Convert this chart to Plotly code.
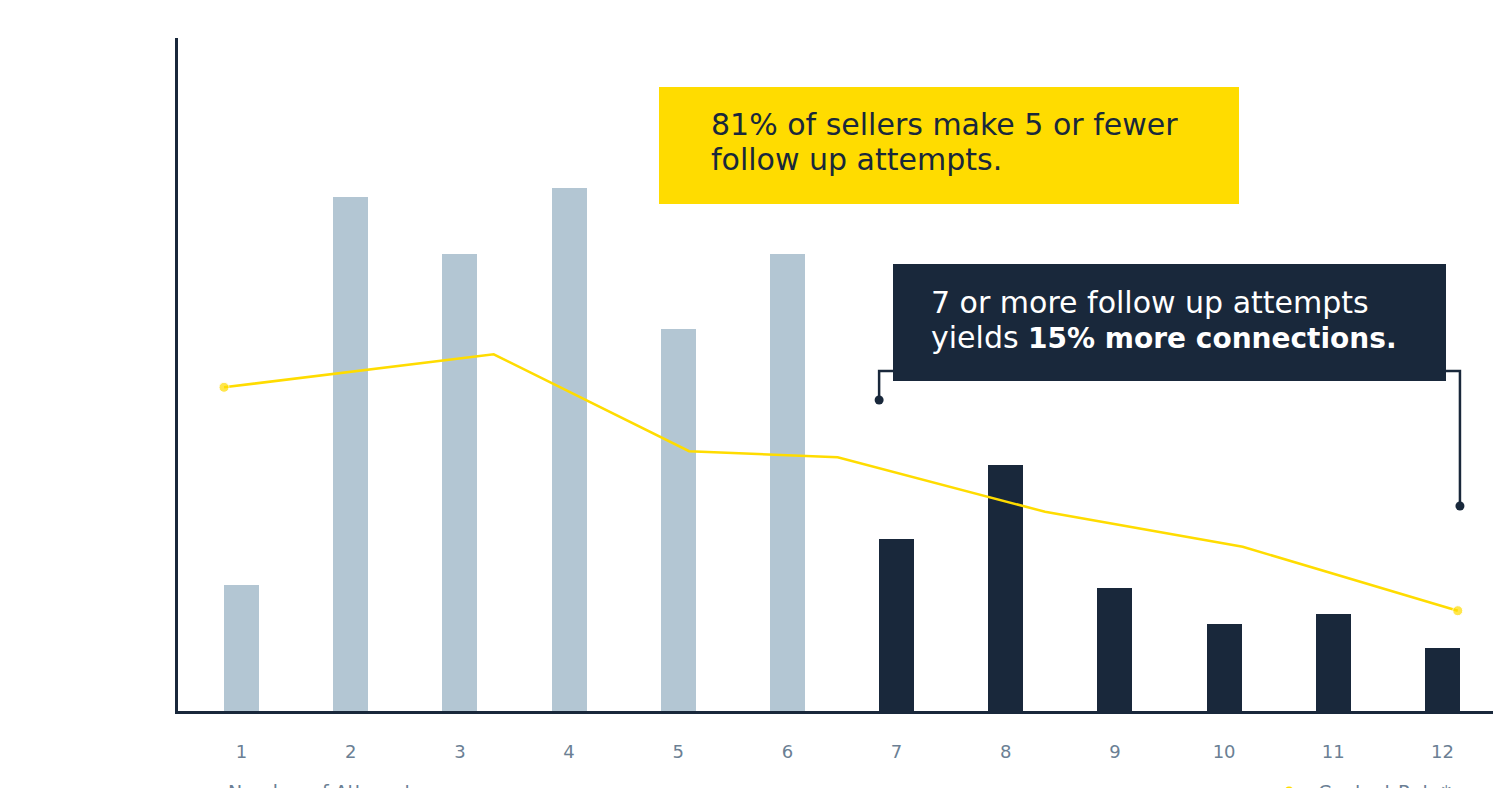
import plotly.graph_objects as go

# ---- data ----
attempts = [1, 2, 3, 4, 5, 6, 7, 8, 9, 10, 11, 12]
tick_labels = [str(a) for a in attempts]
seller_share = [18.7, 76.4, 67.9, 77.7, 56.8, 67.9, 25.6, 36.6, 18.3, 12.9, 14.4, 9.4]
contact_x = [0.84, 3.31, 5.10, 6.46, 8.36, 10.17, 12.14]
contact_rate = [48.1, 53.0, 38.6, 37.7, 29.6, 24.4, 14.9]

LIGHT = "#b3c6d3"
DARK = "#19283b"
YELLOW = "#ffdc00"
TICK = "#6b7f94"
FONT = "DejaVu Sans, sans-serif"

bar_colors = [LIGHT if a <= 6 else DARK for a in attempts]
bar_w = 0.32

fig = go.Figure()
fig.add_trace(go.Bar(
    x=attempts, y=seller_share, width=bar_w,
    marker=dict(color=bar_colors, line=dict(width=0)),
    showlegend=False, hoverinfo="x+y", name="Sellers",
))
fig.add_trace(go.Scatter(
    x=contact_x, y=contact_rate, mode="lines+markers",
    line=dict(color=YELLOW, width=2.5),
    marker=dict(color=YELLOW, size=[10, 0, 0, 0, 0, 0, 10]),
    showlegend=False, name="Contact Rate*",
))

# page offset (body margin) and geometry
OFF = 8
W, H = 1501 - OFF, 788 - OFF
L, T = 178 - OFF, 38 - OFF
R = 0
B = H - (711 - OFF)
pw, ph = W - L - R, H - T - B

def px(x):
    return (x - OFF - L) / pw

def py(y):
    return (H - B - (y - OFF)) / ph

shapes = []
# yellow callout box
shapes.append(dict(type="rect", xref="paper", yref="paper",
                   x0=px(659), x1=px(1239), y0=py(204), y1=py(87),
                   fillcolor=YELLOW, line=dict(width=0), layer="above"))
# dark callout box
shapes.append(dict(type="rect", xref="paper", yref="paper",
                   x0=px(893), x1=px(1446), y0=py(381), y1=py(264),
                   fillcolor=DARK, line=dict(width=0), layer="above"))
# bracket spanning bars 7-12
bx0 = attempts[6] - bar_w / 2
bx1 = attempts[11] + bar_w / 2
shapes.append(dict(type="path", xref="x", yref="paper",
                   path=f"M {bx0} {py(400)} L {bx0} {py(371)} L 7.12 {py(371)}",
                   line=dict(color=DARK, width=2.5), layer="below"))
shapes.append(dict(type="path", xref="x", yref="paper",
                   path=f"M 11.9 {py(371)} L {bx1} {py(371)} L {bx1} {py(506)}",
                   line=dict(color=DARK, width=2.5), layer="below"))
# end dots
for cx, cy in [(bx0, py(400)), (bx1, py(506))]:
    r = 4.5
    shapes.append(dict(type="circle", xref="x", yref="paper",
                       xsizemode="pixel", ysizemode="pixel",
                       xanchor=cx, yanchor=cy, x0=-r, x1=r, y0=-r, y1=r,
                       fillcolor=DARK, line=dict(width=0)))
# legend dot for Contact Rate*
shapes.append(dict(type="circle", xref="paper", yref="paper",
                   xsizemode="pixel", ysizemode="pixel",
                   xanchor=px(1289), yanchor=py(791), x0=-4.5, x1=4.5, y0=-4.5, y1=4.5,
                   fillcolor=YELLOW, line=dict(width=0)))

def line_text(x, y, text, color, size=30):
    return dict(xref="paper", yref="paper", x=px(x), y=py(y),
                xanchor="left", yanchor="middle", align="left", showarrow=False,
                text=text, font=dict(family=FONT, size=size, color=color))

annotations = [
    line_text(709, 125, "81% of sellers make 5 or fewer", DARK),
    line_text(709, 159, "follow up attempts.", DARK),
    line_text(929, 302, "7 or more follow up attempts", "white"),
    line_text(929, 337, "yields <span style='font-size:28px'><b>15% more connections.</b></span>", "white"),
    line_text(226, 792, "Number of Attempts", TICK, 19),
    line_text(1316, 792, "Contact Rate*", TICK, 19),
]

fig.update_layout(
    width=W, height=H,
    margin=dict(l=L, r=R, t=T, b=B, pad=0, autoexpand=False),
    paper_bgcolor="white", plot_bgcolor="white",
    font=dict(family=FONT, color=TICK),
    bargap=0, showlegend=False,
    shapes=shapes, annotations=annotations,
    xaxis=dict(range=[0.4184, 12.536], tickmode="array", tickvals=attempts,
               ticktext=tick_labels, showgrid=False, zeroline=False,
               showline=True, linecolor=DARK, linewidth=3, ticks="",
               tickfont=dict(family=FONT, size=18, color=TICK),
               ticklabelstandoff=22),
    yaxis=dict(range=[0, 100], showgrid=False, zeroline=False,
               showline=True, linecolor=DARK, linewidth=3,
               showticklabels=False, ticks=""),
)

fig.write_html("out.html")
